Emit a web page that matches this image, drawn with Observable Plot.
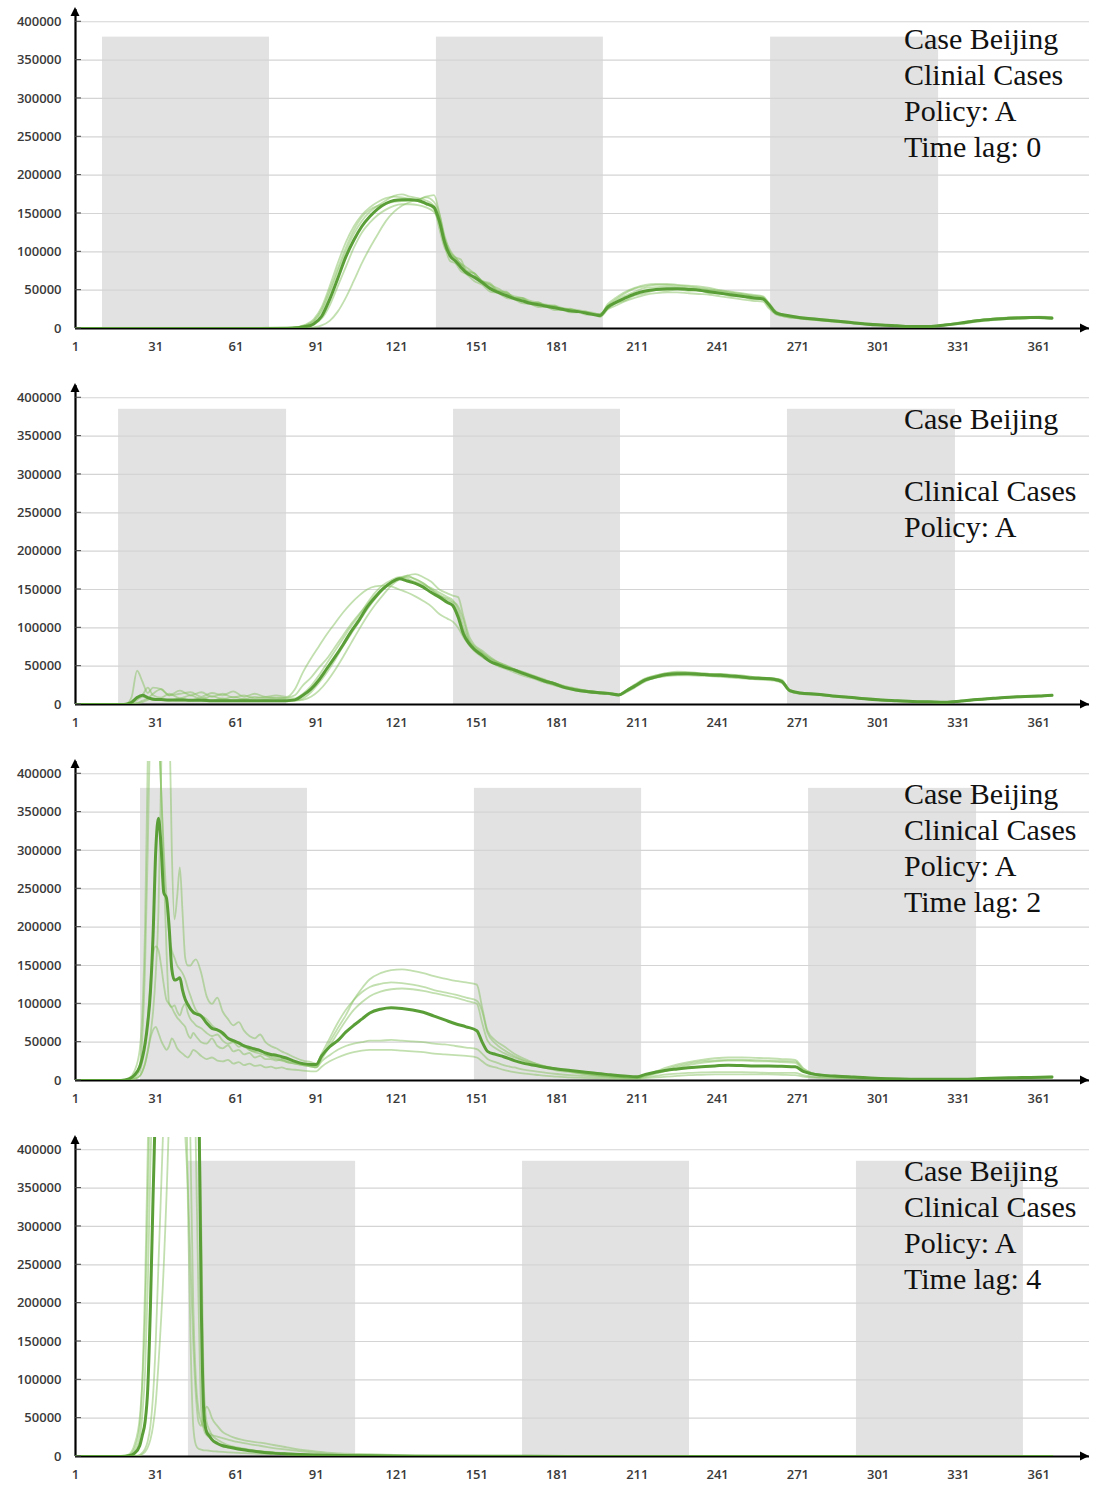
<!DOCTYPE html>
<html>
<head>
<meta charset="utf-8">
<script src="https://cdn.jsdelivr.net/npm/d3@7"></script>
<script src="https://cdn.jsdelivr.net/npm/@observablehq/plot@0.6"></script>
<style>
  body { margin: 0; background: #fff; }
  .panel { position: relative; width: 1108px; height: 376px; }
  .panel svg { display: block; }
  .note { position: absolute; left: 904px; top: 21px; font-family: "Liberation Serif", "Times New Roman", serif;
          font-size: 30px; line-height: 36px; color: #111; white-space: pre; }
  .panel:nth-child(2) .note { top: 25px; }
  .panel:nth-child(3) .note { top: 24px; }
  .panel:nth-child(4) .note { top: 25px; }
</style>
</head>
<body>
<div id="chart"></div>
<script>
// ---------- shared axis data ----------
const xTicks = [1, 31, 61, 91, 121, 151, 181, 211, 241, 271, 301, 331, 361];
const yTicks = [0, 50000, 100000, 150000, 200000, 250000, 300000, 350000, 400000];
const dayDomain = [1, 380];
const yMax = 416000;

// ---------- Panel 1 (time lag 0) values in thousands ----------
const p1Days = [
  1, 70, 80, 84, 87, 90, 93, 96, 99, 102,
  105, 108, 111, 114, 117, 120, 123, 126, 129, 132,
  135, 137, 139, 141, 143, 145, 147, 150, 153, 156,
  159, 162, 165, 168, 171, 174, 177, 180, 183, 186,
  189, 192, 195, 197, 200, 203, 206, 210, 214, 218,
  222, 226, 230, 234, 238, 242, 246, 250, 254, 258,
  260, 263, 267, 272, 278, 284, 290, 296, 302, 308,
  314, 320, 326, 332, 338, 344, 350, 356, 361, 366];
const p1Mean = [
  0, 0, 0.3, 1, 2.5, 6, 16, 38, 65, 93,
  115, 133, 146, 156, 163, 167, 168, 168, 167, 163,
  158, 140, 112, 95, 88, 80, 73, 67, 60, 52,
  47, 43, 39, 36, 33, 31, 29, 27, 25, 23,
  22, 20, 18, 17, 28, 34, 39, 45, 49, 51,
  52, 52, 51, 50, 48, 46, 44, 42, 40, 38.5,
  32, 20, 17, 14, 12, 10, 8, 6, 4.5, 3.5,
  2.5, 2.5, 4.5, 7, 10, 12, 13.5, 14, 14.5, 13.5];
const p1Runs = [
  [0, 0, 0.5, 2, 5, 12, 28, 55, 85, 112,
   133, 148, 158, 165, 170, 172, 171, 169, 166, 162,
   156, 130, 105, 96, 88, 84, 74, 72, 61, 57,
   48, 47, 40, 39, 33, 34, 29, 29, 24, 25,
   22, 21, 18, 18, 30, 38, 45, 52, 55, 57,
   57, 56, 55, 53, 51, 49, 47, 45, 43, 41,
   32, 21, 17, 14, 12, 10, 8, 6, 5, 3.5,
   2.5, 3, 5, 8, 11, 13, 14, 15, 15, 14],
  [0, 0, 0, 0.2, 0.5, 1.5, 4, 10, 22, 40,
   62, 85, 105, 123, 140, 152, 160, 165, 168, 171,
   165, 150, 120, 102, 93, 90, 76, 72, 62, 59,
   49, 48, 40, 40, 34, 33, 29, 29, 25, 26,
   22, 22, 18, 19, 26, 33, 36, 43, 46, 50,
   49, 51, 49, 50, 46, 46, 42, 42, 38, 38,
   29, 19, 15, 13, 11, 9, 7.5, 6, 4.5, 3.5,
   2.5, 2.5, 4, 7, 10, 12, 13, 14, 14.5, 14],
  [0, 0, 0.5, 1.5, 4, 9, 22, 46, 74, 100,
   123, 140, 152, 160, 167, 173, 175, 172, 170, 167,
   160, 145, 118, 100, 92, 85, 80, 72, 62, 57,
   52, 46, 42, 40, 36, 34, 31, 30, 27, 25,
   24, 22, 20, 18, 32, 40, 47, 53, 57, 58,
   58, 57, 56, 55, 53, 50, 48, 46, 44, 42,
   34, 22, 17, 15, 13, 11, 9, 7, 5, 4,
   3, 3, 5, 8, 11, 13, 14.5, 15, 15.5, 15],
  [0, 0, 0.3, 1, 2, 5, 13, 30, 55, 80,
   105, 125, 138, 148, 155, 160, 162, 162, 161, 158,
   152, 138, 108, 88, 85, 75, 71, 62, 57, 48,
   46, 40, 38, 33, 32, 28, 28, 24, 24, 21,
   21, 18, 18, 15, 25, 30, 35, 40, 44, 46,
   47, 47, 46, 45, 44, 42, 40, 38, 36, 35,
   27, 18, 15, 13, 11, 9, 7, 5.5, 4, 3,
   2, 2, 4, 6, 9, 11, 12.5, 13, 14, 13],
  [0, 0, 0.5, 1.5, 4, 10, 25, 50, 78, 105,
   128, 145, 155, 160, 163, 165, 166, 167, 168, 172,
   174, 150, 115, 98, 92, 84, 75, 68, 61, 54,
   49, 45, 40, 37, 34, 32, 30, 28, 26, 24,
   22, 20, 18, 17, 29, 36, 42, 48, 53, 54,
   55, 54, 53, 52, 50, 48, 46, 44, 42, 40,
   31, 20, 16, 14, 12, 10, 8, 6, 4.5, 3.5,
   2.5, 2.5, 4.5, 7.5, 10.5, 12.5, 14, 14.5, 15, 14]
];
const p1Shades = [[11.1, 73.5], [135.9, 198.3], [260.8, 323.6]];
const p1ShadeTop = 380000;
const p1Note = ["Case Beijing", "Clinial Cases", "Policy: A", "Time lag: 0"];

// ---------- Panel 2 ----------
const p2Days = [
  1, 18, 20, 22, 24, 26, 28, 30, 33, 36,
  40, 44, 48, 52, 56, 60, 64, 68, 72, 76,
  80, 83, 86, 89, 92, 95, 98, 101, 104, 107,
  110, 113, 116, 119, 122, 125, 128, 131, 134, 137,
  140, 142, 144, 146, 148, 150, 153, 156, 159, 162,
  165, 168, 172, 176, 180, 184, 188, 192, 196, 200,
  204, 207, 210, 214, 218, 222, 226, 230, 234, 238,
  242, 246, 250, 254, 258, 262, 265, 268, 272, 278,
  284, 290, 296, 302, 308, 314, 320, 326, 332, 338,
  344, 350, 356, 361, 366];
const p2Mean = [
  0, 0, 0.5, 3, 9, 12, 9, 7, 6.5, 6,
  6, 5.5, 5.5, 5, 5, 5, 5, 5, 5, 5,
  5, 6, 12, 20, 32, 47, 62, 78, 95, 110,
  127, 140, 151, 159, 164, 161, 158, 153, 146, 140,
  133, 129, 114, 92, 80, 72, 64, 56, 52, 48,
  45, 41, 36, 31, 27, 22, 19, 17, 15.5, 14.5,
  12.5, 18, 24, 32, 36, 39, 40, 40, 39.5, 38.5,
  38, 37, 36, 34.5, 34, 33, 30, 18, 15, 13.5,
  11, 9.5, 7.5, 6, 5, 4, 3.5, 3, 4.5, 6.5,
  8, 9.5, 10.5, 11, 12];
const p2Runs = [
  [0, 0, 1, 10, 44, 30, 15, 22, 20, 12,
   18, 12, 16, 10, 14, 9, 12, 8, 10, 8,
   9, 12, 25, 35, 48, 60, 75, 90, 105, 118,
   130, 142, 152, 160, 165, 168, 163, 158, 150, 142,
   138, 134, 128, 110, 85, 74, 67, 60, 54, 50,
   46, 42, 37, 32, 28, 23, 20, 18, 16, 15,
   13, 19, 26, 34, 38, 41, 42, 42, 41, 40,
   40, 38, 37, 36, 35, 34, 31, 19, 15, 13.5,
   11, 9.5, 7.5, 6, 5, 4, 3.5, 3, 4.5, 6.5,
   8, 9.5, 10.5, 11, 12],
  [0, 0, 0, 0.5, 2, 5, 8, 14, 20, 12,
   14, 16, 10, 15, 12, 17, 10, 14, 10, 12,
   10, 20, 42, 60, 76, 92, 106, 120, 132, 142,
   150, 154, 155, 154, 150, 146, 141, 135, 128, 118,
   112, 108, 100, 88, 78, 70, 62, 56, 50, 46,
   42, 38, 34, 29, 25, 21, 18, 16, 14.5, 13.5,
   12, 16, 22, 30, 35, 37, 38, 38, 37.5, 37,
   36, 35, 34, 33, 32, 31, 28, 17, 14, 12.5,
   10.5, 9, 7, 5.5, 4.5, 3.5, 3, 2.5, 4, 6,
   7.5, 9, 10, 10.5, 11.5],
  [0, 0, 0, 0.3, 1, 3, 6, 8, 6, 5,
   8, 5, 9, 5, 8, 5, 7, 5, 6, 5,
   5, 5, 6, 10, 18, 30, 45, 62, 80, 98,
   115, 130, 143, 155, 163, 168, 170, 166, 160, 150,
   145, 142, 140, 115, 90, 78, 70, 62, 55, 51,
   46, 43, 38, 33, 28, 24, 21, 18, 16.5, 15.5,
   13, 19, 25, 33, 38, 41, 43, 42, 41, 40,
   40, 39, 38, 36, 35, 34, 32, 18, 15, 13.5,
   11, 9.5, 7.5, 6, 5, 4, 3.5, 3, 4.5, 6.5,
   8, 9.5, 10.5, 11, 12.5],
  [0, 0, 0.3, 2, 6, 10, 8, 6, 6, 5.5,
   5, 5, 5, 5, 5, 4.5, 4.5, 4.5, 4.5, 4.5,
   4.5, 5, 8, 16, 28, 42, 58, 76, 92, 108,
   124, 138, 150, 158, 164, 166, 164, 158, 150, 143,
   136, 132, 118, 95, 82, 74, 66, 58, 52, 48,
   44, 40, 35, 30, 26, 22, 19, 17, 15, 14,
   12, 17, 23, 31, 35, 38, 39, 40, 39, 38,
   37, 36, 35, 34, 33, 32, 29, 17, 14, 13,
   10.5, 9, 7, 5.5, 4.5, 3.5, 3, 3, 4, 6,
   7.5, 9, 10, 10.5, 11.5],
  [0, 0, 0.5, 3, 8, 12, 22, 12, 9, 14,
   8, 12, 7, 11, 7, 10, 7, 10, 8, 9,
   8, 8, 14, 24, 38, 54, 70, 86, 102, 116,
   132, 146, 156, 162, 166, 164, 160, 156, 152, 146,
   140, 136, 124, 100, 84, 76, 68, 60, 55, 50,
   46, 42, 37, 32, 28, 23, 20, 18, 16, 15,
   13, 18, 25, 33, 37, 40, 41, 41, 40, 39,
   39, 38, 37, 35, 34, 33, 31, 19, 15, 14,
   11.5, 10, 8, 6.5, 5.5, 4.5, 4, 3.5, 5, 7,
   8.5, 10, 11, 11.5, 12.5]
];
const p2Shades = [[17.1, 79.9], [142.3, 204.7], [267.1, 329.9]];
const p2ShadeTop = 385000;
const p2Note = ["Case Beijing", "", "Clinical Cases", "Policy: A"];

// ---------- Panel 3 (time lag 2) ----------
const p3Days = [
  1, 18, 21, 23, 25, 26, 27, 28, 29, 30,
  31, 32, 33, 34, 35, 36, 37, 38, 39, 40,
  41, 42, 43, 44, 45, 46, 48, 50, 52, 54,
  56, 58, 60, 62, 64, 66, 68, 70, 72, 74,
  76, 78, 80, 83, 86, 89, 91, 93, 96, 99,
  102, 105, 108, 111, 115, 119, 123, 127, 131, 135,
  139, 143, 147, 151, 153, 155, 158, 161, 165, 169,
  173, 177, 181, 186, 191, 196, 201, 206, 211, 214,
  218, 222, 226, 230, 235, 240, 245, 250, 255, 260,
  265, 270, 273, 276, 280, 286, 292, 300, 310, 320,
  330, 340, 350, 358, 366];
const p3Mean = [
  0, 0, 2, 7, 18, 30, 48, 75, 115, 190,
  300, 342, 305, 245, 238, 200, 145, 131, 132, 134,
  118, 106, 99, 93, 89, 87, 84, 75, 68, 66,
  62, 55, 52, 49, 45, 43, 41, 39, 36, 34,
  33, 31, 29, 25, 22, 21, 21, 32, 44, 52,
  63, 72, 80, 88, 93, 95, 94, 92, 89, 84,
  79, 74, 70, 65, 50, 38, 34, 31, 26, 22,
  19.5, 17, 15, 13, 11, 9, 7.5, 6, 5, 8,
  11, 13.5, 15, 16.5, 18, 19, 20, 19.5, 19, 19,
  18.5, 18, 12, 9, 7, 5.5, 4.5, 3, 2, 1.5,
  1.5, 2.5, 3.5, 4, 4.5];
const p3Runs = [
  [0, 0, 3, 12, 40, 90, 200, 420, 650, 700,
   600, 480, 380, 300, 240, 190, 170, 160, 150, 145,
   140, 132, 120, 110, 100, 92, 85, 80, 72, 66,
   60, 55, 50, 48, 44, 40, 37, 35, 33, 30,
   28, 26, 24, 22, 20, 18, 17, 30, 50, 68,
   85, 105, 120, 132, 140, 144, 145, 143, 140, 136,
   133, 130, 128, 125, 95, 65, 52, 45, 35, 28,
   22, 18, 15, 12, 9, 7, 5.5, 4.5, 3.5, 6,
   10, 15, 19, 22, 25, 26, 27, 27, 26.5, 26,
   25.5, 25, 15, 10, 7, 5.5, 4.5, 3, 2, 1.5,
   1.5, 2.5, 3.5, 4, 4.5],
  [0, 0, 0.5, 2, 6, 12, 22, 38, 60, 90,
   140, 220, 400, 600, 700, 500, 300, 210, 240, 278,
   220, 160, 150, 150, 155, 158, 140, 110, 100, 108,
   90, 80, 72, 76, 65, 58, 55, 60, 50, 45,
   42, 38, 35, 30, 26, 24, 22, 35, 55, 75,
   92, 105, 115, 122, 126, 128, 127, 125, 122, 118,
   115, 112, 108, 104, 90, 62, 48, 40, 32, 26,
   22, 18, 15, 12, 9, 7, 5.5, 4.5, 4, 7,
   12, 17, 21, 24, 27, 29, 30, 30, 29.5, 29,
   28, 27, 16, 10, 7, 5.5, 4.5, 3, 2, 1.5,
   1.5, 2.5, 3.5, 4, 5],
  [0, 0, 1, 4, 12, 25, 45, 80, 130, 165,
   175, 170, 150, 125, 105, 100, 95, 88, 82, 78,
   74, 70, 60, 55, 62, 58, 50, 48, 55, 45,
   42, 46, 38, 40, 34, 36, 30, 32, 28, 28,
   26, 27, 24, 22, 20, 18, 17, 25, 33, 40,
   45, 48, 50, 52, 52, 53, 52, 51, 50, 48,
   47, 45, 43, 41, 35, 28, 24, 20, 17, 14,
   12, 10, 8.5, 7, 6, 5, 4, 3.5, 3, 4.5,
   6, 8, 9, 10, 10.5, 11, 11, 11, 10.5, 10,
   10, 10, 7, 5, 4, 3.5, 3, 2.5, 1.5, 1,
   1, 2, 3, 3.5, 4],
  [0, 0, 0.5, 2, 6, 12, 22, 38, 55, 66,
   70, 62, 52, 45, 40, 45, 55, 50, 42, 38,
   35, 32, 30, 34, 40, 38, 32, 28, 30, 26,
   25, 27, 22, 24, 20, 22, 19, 20, 17, 18,
   16, 17, 15, 14, 13, 12, 12, 18, 25, 30,
   34, 37, 39, 40, 40, 40, 39, 38, 37, 35,
   34, 33, 32, 30, 25, 20, 17, 14, 11, 9,
   7.5, 6, 5, 4, 3.5, 3, 2.5, 2, 2, 3,
   4, 5, 6, 7, 7.5, 8, 8, 8, 8, 8,
   7.5, 7, 5, 4, 3.5, 3, 2.5, 2, 1.5, 1,
   1, 1.5, 2, 2.5, 3],
  [0, 0, 1, 5, 20, 60, 150, 300, 480, 550,
   520, 460, 380, 280, 170, 100, 96, 98, 90, 85,
   95, 100, 88, 80, 76, 72, 68, 62, 58, 60,
   52, 48, 50, 44, 46, 40, 38, 40, 34, 32,
   30, 28, 26, 24, 21, 19, 18, 28, 45, 62,
   78, 92, 102, 110, 116, 119, 120, 119, 117, 114,
   111, 108, 104, 100, 75, 52, 42, 36, 30, 25,
   20, 16, 13, 11, 8.5, 6.5, 5, 4, 3.5, 6,
   9, 13, 17, 20, 23, 25, 26, 26, 25, 25,
   24, 23, 13, 8, 6, 5, 4, 3, 2, 1.5,
   1.5, 2.5, 3.5, 4, 4.5]
];
const p3Shades = [[25.3, 87.7], [150.1, 212.6], [275, 337.8]];
const p3ShadeTop = 381000;
const p3Note = ["Case Beijing", "Clinical Cases", "Policy: A", "Time lag: 2"];

// ---------- Panel 4 (time lag 4) ----------
const p4Days = [
  1, 18, 21, 23, 25, 26, 27, 28, 29, 30,
  31, 32, 34, 36, 38, 40, 42, 43, 44, 45,
  46, 47, 48, 49, 50, 51, 52, 54, 56, 58,
  60, 63, 66, 70, 75, 80, 85, 90, 95, 100,
  110, 120, 140, 170, 200, 240, 280, 320, 366];
const p4Mean = [
  0, 0, 1, 4, 14, 28, 45, 88, 195, 340,
  480, 700, 1000, 1200, 1300, 1250, 1100, 1000, 900, 800,
  650, 500, 200, 55, 32, 27, 22, 17, 14, 12.5,
  11, 9, 7.5, 6, 4.4, 3.4, 2.6, 2, 1.5, 1.2,
  0.9, 0.6, 0.3, 0.2, 0.1, 0.1, 0.05, 0.05, 0.05];
const p4Runs = [
  [0, 0, 2, 10, 40, 100, 220, 400, 600, 800,
   900, 1000, 1000, 900, 700, 500, 420, 350, 250, 150,
   80, 45, 40, 55, 65, 60, 50, 40, 32, 28,
   25, 22, 20, 18, 15, 12, 9, 7, 5, 4,
   3, 2, 1, 0.5, 0.3, 0.2, 0.1, 0.1, 0.1],
  [0, 0, 0, 0.5, 2, 5, 10, 20, 40, 80,
   150, 250, 450, 700, 900, 800, 600, 330, 150, 40,
   15, 10, 9, 8, 8, 7.5, 7, 6.5, 6, 5.5,
   5, 4.5, 4, 3.5, 3, 2.5, 2, 1.5, 1.2, 1,
   0.7, 0.4, 0.2, 0.1, 0.1, 0.1, 0.05, 0.05, 0.05],
  [0, 0, 3, 15, 50, 100, 180, 330, 500, 650,
   800, 900, 1100, 1200, 1200, 1100, 1000, 900, 800, 700,
   600, 500, 300, 90, 45, 35, 28, 22, 18, 15,
   13, 11, 9, 7, 5.5, 4, 3, 2.3, 1.8, 1.4,
   1, 0.6, 0.3, 0.2, 0.1, 0.1, 0.05, 0.05, 0.05],
  [0, 0, 0, 0.3, 1, 3, 6, 12, 22, 40,
   70, 120, 250, 450, 800, 1000, 1000, 900, 800, 600,
   400, 200, 60, 35, 28, 25, 22, 18, 15, 13,
   12, 10, 8, 6.5, 5, 4, 3, 2.2, 1.6, 1.2,
   0.8, 0.5, 0.3, 0.2, 0.1, 0.1, 0.05, 0.05, 0.05],
  [0, 0, 1, 6, 25, 55, 110, 220, 380, 520,
   650, 800, 1000, 1100, 1000, 900, 700, 600, 400, 200,
   100, 60, 45, 38, 34, 30, 28, 26, 24, 22,
   20, 18, 16, 14, 11, 9, 7, 5, 3.5, 2.5,
   1.5, 0.8, 0.4, 0.2, 0.1, 0.1, 0.05, 0.05, 0.05]
];
const p4Shades = [[43.2, 105.7], [168.1, 230.5], [292.9, 355.3]];
const p4ShadeTop = 385000;
const p4Note = ["Case Beijing", "Clinical Cases", "Policy: A", "Time lag: 4"];

// ---------- build ----------
const panels = [
  {days: p1Days, mean: p1Mean, runs: p1Runs, shades: p1Shades, shadeTop: p1ShadeTop, note: p1Note},
  {days: p2Days, mean: p2Mean, runs: p2Runs, shades: p2Shades, shadeTop: p2ShadeTop, note: p2Note},
  {days: p3Days, mean: p3Mean, runs: p3Runs, shades: p3Shades, shadeTop: p3ShadeTop, note: p3Note},
  {days: p4Days, mean: p4Mean, runs: p4Runs, shades: p4Shades, shadeTop: p4ShadeTop, note: p4Note}
];

const root = document.getElementById("chart");

panels.forEach((p, pi) => {
  const n = p.days.length;
  if (p.mean.length !== n) throw new Error(`panel ${pi + 1} mean length ${p.mean.length} != ${n}`);
  p.runs.forEach((r, ri) => { if (r.length !== n) throw new Error(`panel ${pi + 1} run ${ri} length ${r.length} != ${n}`); });

  const runRows = [];
  p.runs.forEach((r, ri) => r.forEach((v, i) => runRows.push({day: p.days[i], value: v * 1000, run: ri})));
  const meanRows = p.mean.map((v, i) => ({day: p.days[i], value: v * 1000}));
  const shadeRows = p.shades.map(([a, b]) => ({x1: a, x2: b, top: p.shadeTop}));

  const plot = Plot.plot({
    width: 1108,
    height: 376,
    marginLeft: 75,
    marginRight: 19,
    marginTop: 9,
    marginBottom: 48,
    style: {fontFamily: "'Open Sans', 'DejaVu Sans', sans-serif", fontSize: "13px", background: "#fff"},
    x: {domain: dayDomain},
    y: {domain: [0, yMax]},
    marks: [
      Plot.rect(shadeRows, {x1: "x1", x2: "x2", y1: 0, y2: "top", fill: "#e2e2e2"}),
      Plot.gridY(yTicks, {stroke: "#d4d4d4", strokeOpacity: 1, strokeWidth: 1.2}),
      Plot.ruleY([0], {stroke: "#000", strokeWidth: 2.2}),
      Plot.ruleX([dayDomain[0]], {stroke: "#000", strokeWidth: 2.2}),
      Plot.line(runRows, {x: "day", y: "value", z: "run", stroke: "#86c160", strokeOpacity: 0.5,
                          strokeWidth: 1.8, curve: "monotone-x", clip: true}),
      Plot.line(meanRows, {x: "day", y: "value", stroke: "#5a9e38", strokeWidth: 3,
                           curve: "monotone-x", clip: true}),
      Plot.axisY({ticks: yTicks, tickFormat: "d", tickSize: 0, tickPadding: 14,
                  fill: "#3a3a3a", fontWeight: 600}),
      Plot.axisX({ticks: xTicks, tickFormat: "d", tickSize: 0, tickPadding: 13,
                  fill: "#3a3a3a", fontWeight: 600})
    ]
  });

  // arrowheads at the ends of the two axis lines
  const xs = plot.scale("x"), ys = plot.scale("y");
  const x0 = xs.apply(dayDomain[0]), xr = xs.apply(dayDomain[1]);
  const y0 = ys.apply(0), yt = ys.apply(yMax);
  const s = d3.select(plot);
  s.append("path").attr("d", `M${x0 - 4.5},${yt + 7}L${x0 + 4.5},${yt + 7}L${x0},${yt - 2}Z`).attr("fill", "#000");
  s.append("path").attr("d", `M${xr - 9},${y0 - 4.5}L${xr - 9},${y0 + 4.5}L${xr},${y0}Z`).attr("fill", "#000");
  // short tick marks on the y axis
  yTicks.forEach(t => {
    s.append("line").attr("x1", x0).attr("x2", x0 + 6).attr("y1", ys.apply(t)).attr("y2", ys.apply(t))
      .attr("stroke", "#444").attr("stroke-width", 1);
  });

  const wrap = document.createElement("div");
  wrap.className = "panel";
  wrap.appendChild(plot);
  const note = document.createElement("div");
  note.className = "note";
  note.textContent = p.note.join("\n");
  wrap.appendChild(note);
  root.appendChild(wrap);
});
</script>
</body>
</html>
